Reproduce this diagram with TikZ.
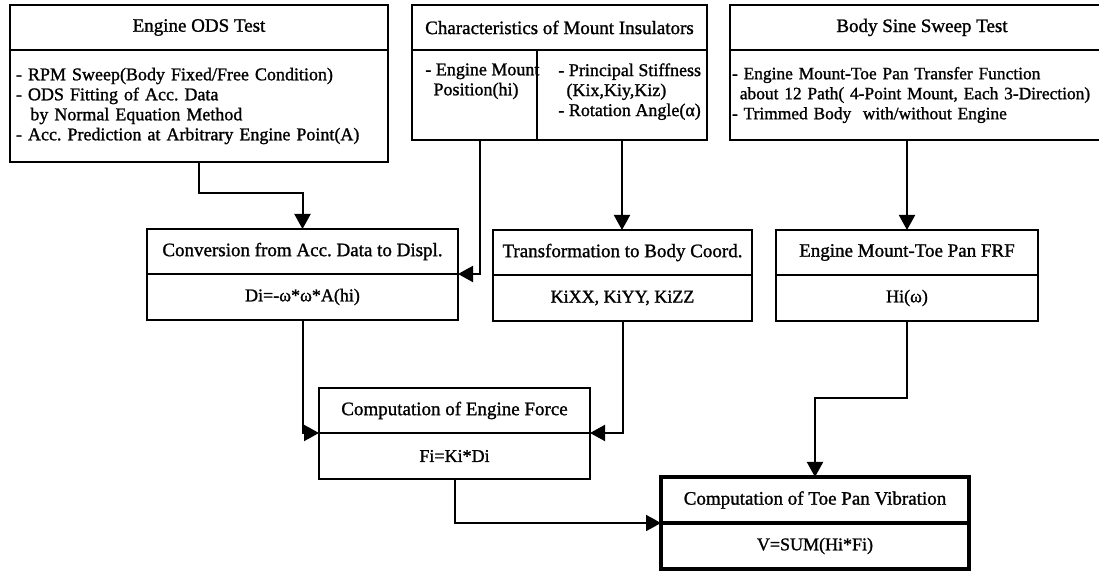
\documentclass[tikz,border=0pt]{standalone}
\usepackage{fontspec}
\setmainfont{Liberation Serif}[BoldFont={Liberation Serif}, BoldFeatures={FakeBold=1.2}]
\usepackage{tikz}
\usetikzlibrary{arrows.meta}
\usetikzlibrary{positioning}

\tikzset{
	box/.style={draw, line width=1pt, outer sep=0pt, inner sep=3pt, font=\fontsize{9}{10}\selectfont\bfseries\frenchspacing},
	ttl/.style={box, anchor=north west, minimum height=22.5pt, font=\fontsize{9.5}{10}\selectfont\bfseries\frenchspacing},
	bdy/.style={box, anchor=north west, align=left},
	res/.style={box, anchor=north west, minimum height=23pt},
	txt/.style={anchor=north west, align=left, inner sep=3pt, font=\fontsize{9}{10}\selectfont\bfseries\frenchspacing},
	flow/.style={line width=1pt, -{Triangle[length=7.5pt,width=8pt]}}
}

\begin{document}
\begin{tikzpicture}[x=0.5pt,y=-0.5pt]
			\useasboundingbox (0,0) rectangle (1099,572);
			\clip (0,0) rectangle (1099,572);
			% tests and data
			\node[ttl, minimum width=189pt] (odst) at (10,5) {Engine ODS Test};
			\node[bdy, text width=183pt, minimum height=56pt] (odsb) at (odst.south west) {- RPM Sweep(Body Fixed/Free Condition)\\- ODS Fitting of Acc. Data\\\hspace*{0.8em}by Normal Equation Method\\- Acc. Prediction at Arbitrary Engine Point(A)};
			\node[ttl, minimum width=147.5pt] (mntt) at (412,5) {Characteristics of Mount Insulators};
			\node[bdy, minimum width=62.5pt, minimum height=45pt] (mpos) at (mntt.south west) {};
			\node[bdy, minimum width=85pt, minimum height=45pt] (mstf) at (mpos.north east) {};
			\node[txt] (mpost) at ([xshift=3.5pt,yshift=-3.5pt]mpos.north west) {- Engine Mount\\\hspace*{0.45em}Position(hi)};
			\node[txt] (mstft) at ([xshift=7.5pt,yshift=-3.5pt]mstf.north west) {- Principal Stiffness\\\hspace*{0.45em}(Kix,Kiy,Kiz)\\- Rotation Angle(α)};
			\node[ttl, minimum width=192pt] (sinet) at (730,5) {Body Sine Sweep Test};
			\node[bdy, inner xsep=1pt, text width=190pt, minimum height=45pt, font=\fontsize{8.7}{10}\selectfont\bfseries\frenchspacing] (sineb) at (sinet.south west) {- Engine Mount-Toe Pan Transfer Function\\\hspace*{0.45em}about 12 Path( 4-Point Mount, Each 3-Direction)\\- Trimmed Body\ \ with/without Engine};
			% processing
			\node[ttl, minimum width=155.5pt] (convt) at (147,229) {Conversion from Acc. Data to Displ.};
			\node[res, minimum width=155.5pt] (convb) at (convt.south west) {Di=-ω*ω*A(hi)};
			\node[ttl, minimum width=129.5pt] (transt) at (493,230) {Transformation to Body Coord.};
			\node[res, minimum width=129.5pt] (transb) at (transt.south west) {KiXX, KiYY, KiZZ};
			\node[ttl, minimum width=131pt] (frft) at (776,230) {Engine Mount-Toe Pan FRF};
			\node[res, minimum width=131pt] (frfb) at (frft.south west) {Hi(ω)};
			\node[ttl, minimum width=135.5pt] (forcet) at (319,388) {Computation of Engine Force};
			\node[res, minimum width=135.5pt] (forceb) at (forcet.south west) {Fi=Ki*Di};
			\node[ttl, minimum width=154pt, minimum height=23pt, line width=1.6pt] (toet) at (661,477) {Computation of Toe Pan Vibration};
			\node[res, minimum width=154pt, line width=1.6pt] (toeb) at (toet.south west) {V=SUM(Hi*Fi)};
			% connectors
			\draw[flow] (odsb.south) -- ++(0,31) -| (convt.north);
			\draw[flow] ([xshift=2.75pt]mpos.south) |- (convb.north east);
			\draw[flow] (mstf.south) -- (mstf.south |- transt.north);
			\draw[flow] (frft.north |- sineb.south) -- (frft.north);
			\draw[flow] (convb.south) |- (forceb.north west);
			\draw[flow] (transb.south) |- (forceb.north east);
			\draw[flow] (forceb.south) |- (toeb.north west);
			\draw[flow] (frfb.south) -- ++(0,77) -| (toet.north);
		\end{tikzpicture}
\end{document}
